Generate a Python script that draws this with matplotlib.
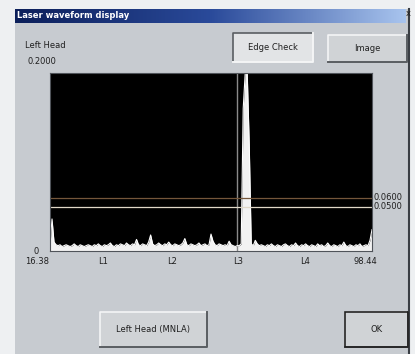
import numpy as np
import matplotlib
matplotlib.use("Agg")
import matplotlib.pyplot as plt
from matplotlib.patches import Rectangle
from matplotlib.colors import LinearSegmentedColormap

# waveform data (left head laser reading)
X_START, X_END = 16.38, 98.44
Y_MAX = 0.2
signal = [
    0.007, 0.036, 0.010, 0.007, 0.006, 0.007, 0.005, 0.006, 0.007, 0.006,
    0.005, 0.006, 0.008, 0.006, 0.005, 0.007, 0.006, 0.005, 0.006, 0.007,
    0.006, 0.005, 0.007, 0.006, 0.008, 0.006, 0.005, 0.007, 0.006, 0.007,
    0.009, 0.006, 0.005, 0.007, 0.006, 0.008, 0.007, 0.006, 0.009, 0.007,
    0.006, 0.008, 0.007, 0.013, 0.007, 0.006, 0.008, 0.007, 0.006, 0.010,
    0.018, 0.008, 0.006, 0.007, 0.009, 0.007, 0.006, 0.008, 0.007, 0.010,
    0.007, 0.006, 0.008, 0.007, 0.006, 0.007, 0.009, 0.014, 0.007, 0.006,
    0.008, 0.007, 0.006, 0.007, 0.009, 0.006, 0.007, 0.008, 0.006, 0.007,
    0.019, 0.011, 0.007, 0.006, 0.008, 0.007, 0.006, 0.007, 0.006, 0.011,
    0.007, 0.006, 0.005, 0.006, 0.006, 0.008, 0.160, 0.200, 0.200, 0.120,
    0.008, 0.006, 0.012, 0.008, 0.006, 0.007, 0.006, 0.005, 0.007, 0.006,
    0.008, 0.006, 0.005, 0.007, 0.006, 0.005, 0.007, 0.008, 0.006, 0.005,
    0.007, 0.006, 0.009, 0.006, 0.005, 0.007, 0.006, 0.008, 0.006, 0.005,
    0.007, 0.006, 0.005, 0.008, 0.006, 0.007, 0.005, 0.006, 0.009, 0.006,
    0.005, 0.007, 0.006, 0.005, 0.007, 0.006, 0.010, 0.006, 0.005, 0.007,
    0.006, 0.005, 0.007, 0.006, 0.008, 0.005, 0.006, 0.007, 0.006, 0.012,
    0.024,
]
marker_x = 64.04
thresholds = [0.06, 0.05]
threshold_labels = ["0.0600", "0.0500"]
threshold_colors = ["#74563a", "#e0d8c8"]
tick_labels = ["16.38", "L1", "L2", "L3", "L4", "98.44"]
tick_px = [37, 103, 172, 238, 305, 365]

W, H = 415, 354
BG = "#c7cbd0"
FS = 6


def fx(px):
    return px / W


def fy(py):
    return 1 - py / H


def box(x0, y0, x1, y1, z=1, **kw):
    r = Rectangle((fx(x0), fy(y1)), (x1 - x0) / W, (y1 - y0) / H,
                  transform=fig.transFigure, zorder=z, **kw)
    fig.add_artist(r)


def line(xs, ys, z=2, **kw):
    fig.add_artist(plt.Line2D([fx(v) for v in xs], [fy(v) for v in ys],
                              transform=fig.transFigure, zorder=z, **kw))


def button(x0, y0, x1, y1, text, pressed=False, default=False):
    face = "#e2e4e6" if pressed else "#d0d3d6"
    box(x0, y0, x1, y1, facecolor=face, edgecolor="none")
    dark, light = "#5a5e62", "#f4f5f6"
    tl, br = (dark, light) if pressed else (light, dark)
    line([x0, x0, x1], [y1, y0, y0], color=tl, lw=1.2)
    line([x0, x1, x1], [y1, y1, y0], color=br, lw=1.4)
    if default:
        box(x0, y0, x1, y1, z=3, facecolor="none", edgecolor="#202020", lw=1.2)
    fig.text(fx((x0 + x1) / 2), fy((y0 + y1) / 2), text, fontsize=FS,
             ha="center", va="center", color="#202020")


fig = plt.figure(figsize=(W / 100, H / 100), dpi=100)
fig.patch.set_facecolor("#eef0f2")

# dialog body
box(15, 9, 410, 354, z=-10, facecolor=BG, edgecolor="none")
line([409, 409], [9, 354], color="#3a3e44", lw=1.5)

# title bar gradient
tax = fig.add_axes([fx(15), fy(23), (405 - 15) / W, 14 / H])
cmap = LinearSegmentedColormap.from_list("title", ["#0c1f5a", "#2a4a9a", "#a8c4ee"])
tax.imshow(np.linspace(0, 1, 256)[None, :], aspect="auto", cmap=cmap)
tax.axis("off")
fig.text(fx(17), fy(16), "Laser waveform display", fontsize=FS,
         fontweight="bold", color="white", va="center")
fig.text(fx(408), fy(14), "x", fontsize=FS, color="#202020", va="center", ha="center")

fig.text(fx(25), fy(46), "Left Head", fontsize=FS, color="#202020", va="center")
fig.text(fx(27), fy(62), "0.2000", fontsize=FS, color="#202020", va="center")
fig.text(fx(33), fy(251), "0", fontsize=FS, color="#202020", va="center")

button(233, 33, 313, 62, "Edge Check", pressed=True)
button(328, 35, 407, 62, "Image")
button(100, 312, 207, 347, "Left Head (MNLA)")
button(345, 312, 408, 347, "OK", default=True)

# waveform axes
ax = fig.add_axes([fx(50), fy(251), (372 - 50) / W, (251 - 73) / H])
ax.set_facecolor("black")
x = np.linspace(X_START, X_END, len(signal))
ax.axvline(marker_x, color="#8a8a8a", lw=1.0)
ax.fill_between(x, 0, signal, color="#f2f2f2", lw=0)
ax.plot(x, signal, color="white", lw=0.8)
for val, col in zip(thresholds, threshold_colors):
    ax.axhline(val, color=col, lw=0.9)
ax.set_xlim(X_START, X_END)
ax.set_ylim(0, Y_MAX)
ax.set_xticks([])
ax.set_yticks([])
for s in ax.spines.values():
    s.set_color("#50545a")

for lab, val in zip(threshold_labels, thresholds):
    ax.text(1.005, val, lab, transform=ax.get_yaxis_transform(), fontsize=FS,
            color="#202020", va="center", ha="left")

for lab, px in zip(tick_labels, tick_px):
    fig.text(fx(px), fy(262), lab, fontsize=FS, color="#202020",
             ha="center", va="center")

fig.savefig("out.png", dpi=100, facecolor=fig.get_facecolor())
